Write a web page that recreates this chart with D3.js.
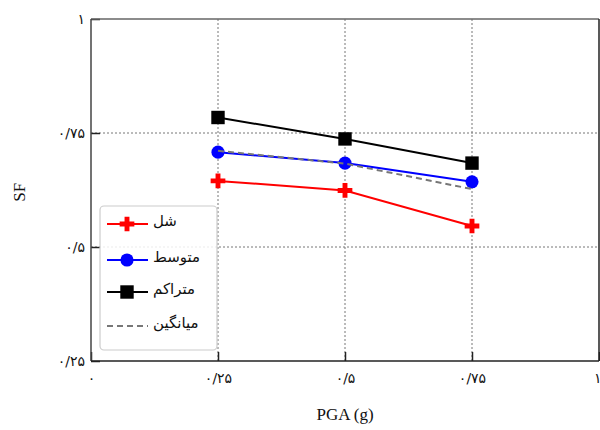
<!DOCTYPE html>
<html>
<head>
<meta charset="utf-8">
<script src="https://cdn.jsdelivr.net/npm/d3@7"></script>
<style>
  body { margin: 0; background: #fff; }
  svg { display: block; }
</style>
</head>
<body>
<svg id="chart" width="600" height="430"></svg>
<script>
// PGA levels (g) and safety factors for each soil density
const pga = [0.25, 0.5, 0.75];
const loose = [0.645, 0.624, 0.546];     // شل
const medium = [0.708, 0.684, 0.643];    // متوسط
const dense = [0.784, 0.737, 0.684];     // متراکم
const average = [0.711, 0.683, 0.627];   // میانگین

const xTicks = [0, 0.25, 0.5, 0.75, 1];
const xTickLabels = ["۰", "۰/۲۵", "۰/۵", "۰/۷۵", "۱"];
const yTicks = [0.25, 0.5, 0.75, 1];
const yTickLabels = ["۰/۲۵", "۰/۵", "۰/۷۵", "۱"];
const legendLabels = ["شل", "متوسط", "متراکم", "میانگین"];

const svg = d3.select("#chart");
const plotLeft = 91, plotRight = 599, plotTop = 19, plotBottom = 361;

const x = d3.scaleLinear().domain([0, 1]).range([plotLeft, plotRight]);
const y = d3.scaleLinear().domain([0.25, 1]).range([plotBottom, plotTop]);

const labelFont = "'DejaVu Sans', sans-serif";

// dotted grid on the inner ticks
const grid = svg.append("g");
grid.selectAll("line.gx").data([0.25, 0.5, 0.75]).join("line")
  .attr("x1", d => x(d)).attr("x2", d => x(d))
  .attr("y1", plotTop).attr("y2", plotBottom)
  .attr("stroke", "#777").attr("stroke-width", 1).attr("stroke-dasharray", "2,2");
grid.selectAll("line.gy").data([0.5, 0.75]).join("line")
  .attr("x1", plotLeft).attr("x2", plotRight)
  .attr("y1", d => y(d)).attr("y2", d => y(d))
  .attr("stroke", "#777").attr("stroke-width", 1).attr("stroke-dasharray", "2,2");

// axes with inward ticks
const xAxis = d3.axisBottom(x).tickValues(xTicks)
  .tickFormat((d, i) => xTickLabels[i]).tickSizeInner(-9).tickSizeOuter(0).tickPadding(12);
const gx = svg.append("g").attr("transform", `translate(0,${plotBottom})`).call(xAxis);
gx.select(".domain").remove();
gx.selectAll(".tick line").attr("stroke", "#222").attr("stroke-width", 1.5);
gx.selectAll(".tick text").attr("font-family", labelFont).attr("font-size", 14).attr("fill", "#111");
// keep the last label inside the page edge
gx.selectAll(".tick text").filter(d => d === 1).attr("text-anchor", "end").attr("dx", 2);

const yAxis = d3.axisLeft(y).tickValues(yTicks)
  .tickFormat((d, i) => yTickLabels[i]).tickSizeInner(-9).tickSizeOuter(0).tickPadding(6);
const gy = svg.append("g").attr("transform", `translate(${plotLeft},0)`).call(yAxis);
gy.select(".domain").remove();
gy.selectAll(".tick line").attr("stroke", "#222").attr("stroke-width", 1.5);
gy.selectAll(".tick text").attr("font-family", labelFont).attr("font-size", 14).attr("fill", "#111");

// frame
svg.append("line").attr("x1", plotLeft).attr("x2", plotRight).attr("y1", plotTop).attr("y2", plotTop)
  .attr("stroke", "#666").attr("stroke-width", 1.5);
svg.append("line").attr("x1", plotRight).attr("x2", plotRight).attr("y1", plotTop).attr("y2", plotBottom)
  .attr("stroke", "#222").attr("stroke-width", 1.5);
svg.append("line").attr("x1", plotLeft).attr("x2", plotLeft).attr("y1", plotTop).attr("y2", plotBottom)
  .attr("stroke", "#444").attr("stroke-width", 1.5);
svg.append("line").attr("x1", plotLeft).attr("x2", plotRight).attr("y1", plotBottom).attr("y2", plotBottom)
  .attr("stroke", "#222").attr("stroke-width", 1.5);

// axis titles
svg.append("text").attr("x", x(0.5)).attr("y", 420).attr("text-anchor", "middle")
  .attr("font-family", "'Liberation Serif', serif").attr("font-size", 17).attr("fill", "#111")
  .text("PGA (g)");
svg.append("text").attr("transform", `translate(25,${y(0.62)}) rotate(-90)`)
  .attr("text-anchor", "middle")
  .attr("font-family", "'Liberation Serif', serif").attr("font-size", 17).attr("fill", "#111")
  .text("SF");

const series = [
  { values: loose, color: "#ff0000", symbol: d3.symbolCross, size: 120, dash: null },
  { values: medium, color: "#0000ff", symbol: d3.symbolCircle, size: 135, dash: null },
  { values: dense, color: "#000000", symbol: d3.symbolSquare, size: 180, dash: null },
  { values: average, color: "#777777", symbol: null, size: 0, dash: "6,4" }
];

const line = d3.line().x((d, i) => x(pga[i])).y(d => y(d));

// series lines, drawn dense first so the dashed mean sits on top
const order = [2, 0, 1, 3];
order.forEach(k => {
  const s = series[k];
  svg.append("path").datum(s.values)
    .attr("d", line).attr("fill", "none")
    .attr("stroke", s.color).attr("stroke-width", 2)
    .attr("stroke-dasharray", s.dash);
  if (s.symbol) {
    svg.selectAll(null).data(s.values).join("path")
      .attr("transform", (d, i) => `translate(${x(pga[i])},${y(d)})`)
      .attr("d", d3.symbol().type(s.symbol).size(s.size)())
      .attr("fill", s.color);
  }
});

// legend
const lg = svg.append("g");
lg.append("rect").attr("x", 100).attr("y", 206).attr("width", 117).attr("height", 144)
  .attr("rx", 4).attr("fill", "#fff").attr("fill-opacity", 0.85)
  .attr("stroke", "#ccc").attr("stroke-width", 1.2);
const rowY = [224, 260, 292, 326];
series.forEach((s, i) => {
  lg.append("line").attr("x1", 107).attr("x2", 148).attr("y1", rowY[i]).attr("y2", rowY[i])
    .attr("stroke", s.color).attr("stroke-width", 2).attr("stroke-dasharray", s.dash);
  if (s.symbol) {
    lg.append("path").attr("transform", `translate(127,${rowY[i]})`)
      .attr("d", d3.symbol().type(s.symbol).size(s.size)()).attr("fill", s.color);
  }
  lg.append("text").attr("x", 153).attr("y", rowY[i]).attr("dy", "0.1em")
    .attr("direction", "rtl").attr("text-anchor", "end")
    .attr("font-family", labelFont).attr("font-size", 15).attr("fill", "#111")
    .text(legendLabels[i]);
});
</script>
</body>
</html>
